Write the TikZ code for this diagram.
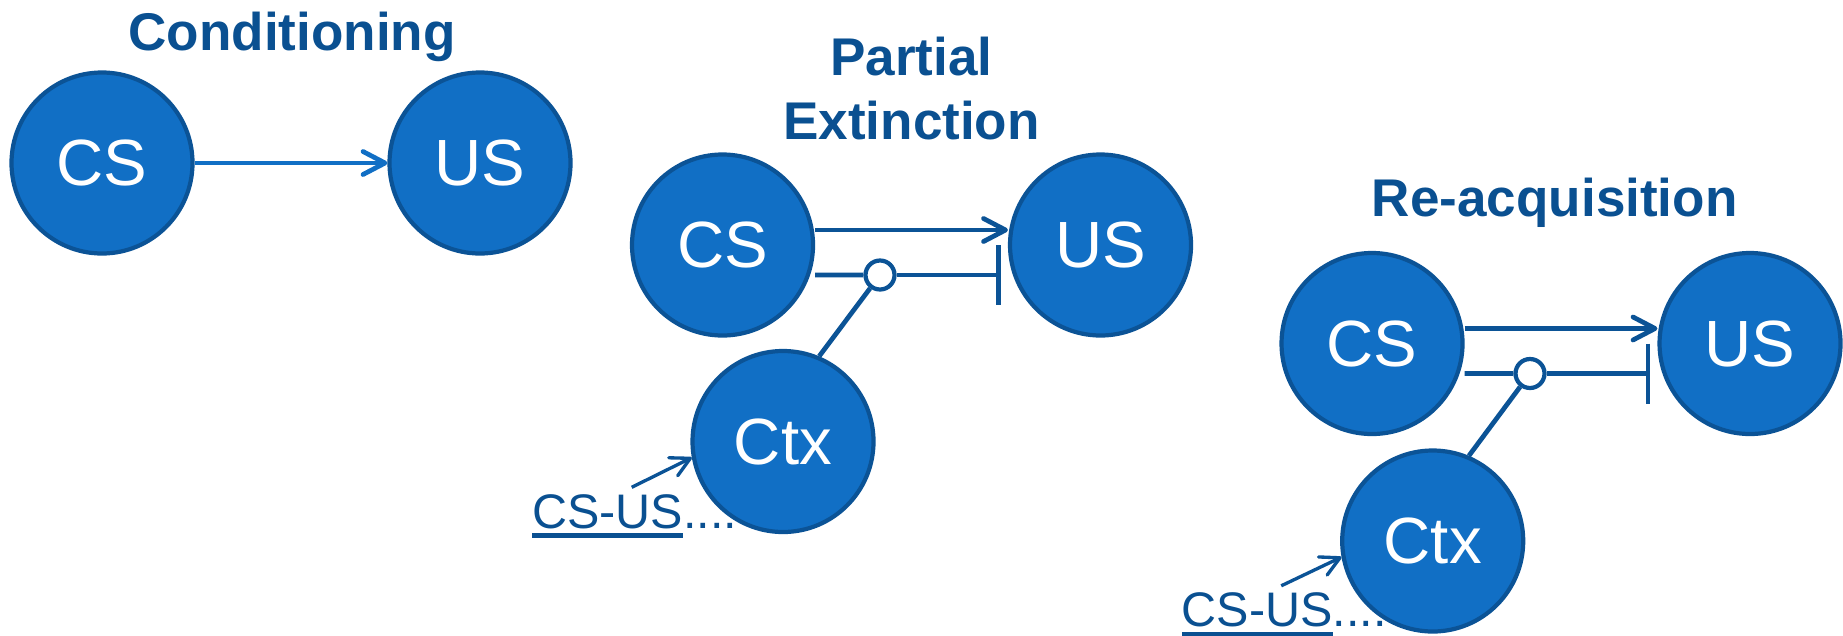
\documentclass[tikz,border=0pt]{standalone}
\usepackage{fontspec}
\setmainfont{Liberation Sans}
\usetikzlibrary{arrows.meta}

\definecolor{fillblue}{RGB}{17,111,197}
\definecolor{edgeblue}{RGB}{11,83,150}
\definecolor{textblue}{RGB}{10,80,145}

% thick underline for the trial label
\newcommand{\barunder}[1]{\setbox0=\hbox{#1}\rlap{\vrule height -1.5pt depth 2.7pt width \wd0}\box0}

\begin{document}
\begin{tikzpicture}[node distance={37.8mm}, line width=1.35pt,
	main/.style = {draw=edgeblue, fill=fillblue, circle, line width=1.2pt, minimum size=18.1mm, inner sep=0pt, text=white, font=\fontsize{18.6}{22}\selectfont},
	gate/.style = {draw=edgeblue, fill=white, circle, line width=1.2pt, minimum size=2.9mm, inner sep=0pt},
	title/.style = {anchor=base, inner sep=0pt, text=textblue, font=\fontsize{15.1}{18}\selectfont\bfseries},
	trial/.style = {anchor=base west, inner sep=0pt, text=textblue, font=\fontsize{13.8}{16}\selectfont},
	fire/.style = {-{Straight Barb[length=2.2mm, width=2.3mm, round]}},
	cut/.style = {-{Bar[width=6mm]}}]
		\useasboundingbox (0,0) rectangle (18.43,-6.35);
		% conditioning
		\node[title] (t1) at (2.92,-0.507) {Conditioning};
		\node[main] (cs1) at (1.02,-1.63) {CS};
		\node[main] (us1) [right of=cs1] {US};
		\draw[fire, fillblue] (cs1) -- (us1);
		% partial extinction
		\node[title] (t2) at (9.115,-0.76) {Partial};
		\node[title] (t2b) at (9.115,-1.393) {Extinction};
		\node[main] (cs2) at (7.225,-2.45) {CS};
		\node[main] (us2) [right of=cs2] {US};
		\node[main] (ctx2) at (7.83,-4.415) {Ctx};
		\node[gate] (g2) at (8.80,-2.75) {};
		\node[trial] (lbl2) at (5.30,-5.28) {\barunder{CS-US}....};
		\path (us2.west |- g2) ++(-0.7mm,0) coordinate (stop2);
		\coordinate (in2) at (6.317,-4.873);
		\draw[fire, edgeblue] ([yshift=1.5mm]cs2.east) -- ([yshift=1.5mm]us2.west);
		\draw[edgeblue] ([yshift=-3mm]cs2.east) -- (g2);
		\draw[cut, edgeblue] (g2) -- (stop2);
		\draw[edgeblue] (ctx2.67) -- (g2);
		\draw[edgeblue, line width=0.95pt, -{Straight Barb[length=1.9mm, width=2mm, round]}] (in2) -- (ctx2.190);
		% re-acquisition
		\node[title] (t3) at (15.547,-2.167) {Re-acquisition};
		\node[main] (cs3) at (13.72,-3.435) {CS};
		\node[main] (us3) [right of=cs3] {US};
		\node[main] (ctx3) at (14.327,-5.41) {Ctx};
		\node[gate] (g3) at (15.30,-3.735) {};
		\node[trial] (lbl3) at (11.795,-6.265) {\barunder{CS-US}....};
		\path (us3.west |- g3) ++(-0.7mm,0) coordinate (stop3);
		\coordinate (in3) at (12.812,-5.858);
		\draw[fire, edgeblue] ([yshift=1.5mm]cs3.east) -- ([yshift=1.5mm]us3.west);
		\draw[edgeblue] ([yshift=-3mm]cs3.east) -- (g3);
		\draw[cut, edgeblue] (g3) -- (stop3);
		\draw[edgeblue] (ctx3.67) -- (g3);
		\draw[edgeblue, line width=0.95pt, -{Straight Barb[length=1.9mm, width=2mm, round]}] (in3) -- (ctx3.190);
	\end{tikzpicture}
\end{document}
